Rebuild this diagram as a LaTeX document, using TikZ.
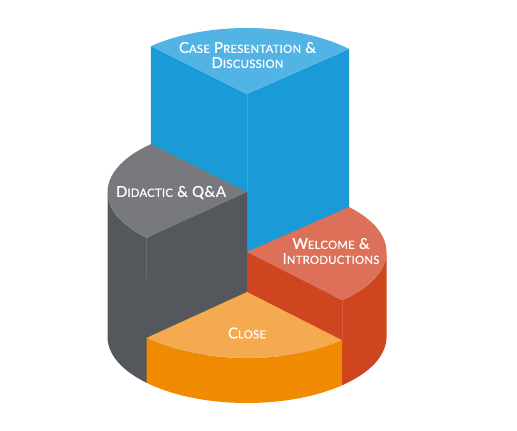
\documentclass[tikz,border=0pt]{standalone}
\usepackage{fontspec}
\setmainfont{Lato}
\newfontfamily\lblfont{Lato}[LetterSpace=2.5,FakeBold=0.5]
\definecolor{bluS}{HTML}{1A9AD7}
\definecolor{bluT}{HTML}{52B4E4}
\definecolor{grayS}{HTML}{54575C}
\definecolor{grayT}{HTML}{77797C}
\definecolor{redS}{HTML}{CF4520}
\definecolor{redT}{HTML}{DD7058}
\definecolor{orgS}{HTML}{F08A00}
\definecolor{orgT}{HTML}{F5AA50}
\newcommand\smc[1]{{\fontsize{11.3}{11}\selectfont #1}}
\begin{document}
\begin{tikzpicture}[x=1pt,y=1pt,
  lbl/.style={text=white, align=center, inner sep=0pt, font=\lblfont\fontsize{15}{14}\selectfont},
  seam/.style={line width=0.8pt, white, opacity=0.12}]
\useasboundingbox (0,0) rectangle (517,431);
\def\cx{247}\def\rx{139.5}\def\ry{66}\def\yb{94}
\def\yB{337}\def\yG{239}\def\yR{179}\def\yO{139}
% ---- blue (back, tallest) ----
\fill[bluS] ({\cx+\rx*cos(133.5)},{\yB+\ry*sin(133.5)}) -- (\cx,\yB) -- ({\cx+\rx*cos(43)},{\yB+\ry*sin(43)})
  -- ({\cx+\rx*cos(43)},{\yb+\ry*sin(43)}) -- (\cx,\yb) -- ({\cx+\rx*cos(133.5)},{\yb+\ry*sin(133.5)}) -- cycle;
\draw[seam] (\cx,\yB) -- (\cx,\yG);
\fill[bluT] (\cx,\yB) -- ({\cx+\rx*cos(43)},{\yB+\ry*sin(43)}) arc[start angle=43,end angle=133.5,x radius=\rx,y radius=\ry] -- cycle;
% ---- gray ----
\fill[grayS] (\cx,\yG) -- ({\cx+\rx*cos(224)},{\yG+\ry*sin(224)}) arc[start angle=224,end angle=180,x radius=\rx,y radius=\ry]
  -- ({\cx-\rx},\yb) arc[start angle=180,end angle=224,x radius=\rx,y radius=\ry] -- (\cx,\yb) -- cycle;
\draw[seam] ({\cx+\rx*cos(224)},{\yG+\ry*sin(224)}) -- ++(0,-40);
\fill[grayT] (\cx,\yG) -- ({\cx+\rx*cos(133.5)},{\yG+\ry*sin(133.5)}) arc[start angle=133.5,end angle=224,x radius=\rx,y radius=\ry] -- cycle;
% ---- red ----
\fill[redS] (\cx,\yR) -- ({\cx+\rx*cos(313)},{\yR+\ry*sin(313)}) arc[start angle=313,end angle=360,x radius=\rx,y radius=\ry]
  -- ({\cx+\rx},\yb) arc[start angle=360,end angle=313,x radius=\rx,y radius=\ry] -- (\cx,\yb) -- cycle;
\draw[seam] ({\cx+\rx*cos(313)},{\yR+\ry*sin(313)}) -- ++(0,-40);
\fill[redT] (\cx,\yR) -- ({\cx+\rx*cos(313)},{\yR+\ry*sin(313)}) arc[start angle=313,end angle=403,x radius=\rx,y radius=\ry] -- cycle;
% ---- orange (front, lowest) ----
\fill[orgS] ({\cx+\rx*cos(224)},{\yO+\ry*sin(224)}) arc[start angle=224,end angle=313,x radius=\rx,y radius=\ry]
  -- ({\cx+\rx*cos(313)},{\yb+\ry*sin(313)}) arc[start angle=313,end angle=224,x radius=\rx,y radius=\ry] -- cycle;
\fill[orgT] (\cx,\yO) -- ({\cx+\rx*cos(224)},{\yO+\ry*sin(224)}) arc[start angle=224,end angle=313,x radius=\rx,y radius=\ry] -- cycle;
% ---- labels ----
\node[lbl] (case) at (247.5,376) {C\smc{ASE} P\smc{RESENTATION} \&\\[1pt]D\smc{ISCUSSION}};
\node[lbl] (didactic) at (171,238.5) {D\smc{IDACTIC} \& Q\&A};
\node[lbl] (welcome) at (331,180) {W\smc{ELCOME} \&\\[1pt]I\smc{NTRODUCTIONS}};
\node[lbl] (close) at (247,98) {C\smc{LOSE}};
\end{tikzpicture}
\end{document}
